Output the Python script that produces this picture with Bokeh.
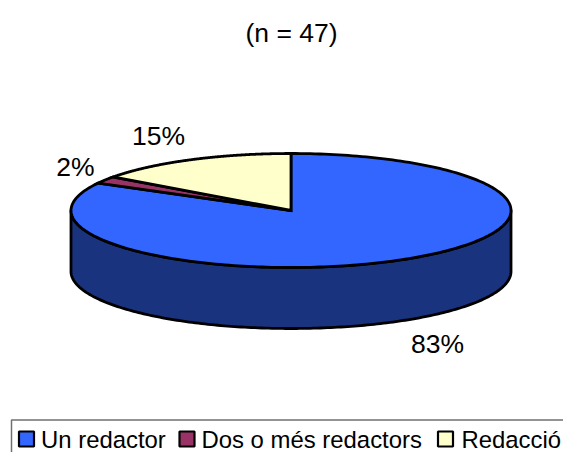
import numpy as np
from bokeh.plotting import figure
from bokeh.embed import file_html
from bokeh.resources import INLINE
from bokeh.core.properties import value

categories = ["Un redactor", "Dos o més redactors", "Redacció"]
shares = [83, 2, 15]
labels = ["83%", "2%", "15%"]
colors = ["#3366FF", "#993366", "#FFFFCC"]
title = "(n = 47)"

FONT = value("Liberation Sans")
W, H = 563, 452
p = figure(width=W, height=H, x_range=(0, W), y_range=(H, 0),
           output_backend="svg", toolbar_location=None, min_border=0,
           outline_line_color=None)
p.axis.visible = False
p.grid.visible = False
p.background_fill_color = "white"

cx, cy, rx, ry, depth = 290.5, 210, 220, 57, 61

def pt(deg):
    t = np.radians(deg)
    return cx + rx * np.sin(t), cy - ry * np.cos(t)

# side wall (front half of the rim)
ts = np.linspace(90, 270, 200)
x, y = pt(ts)
p.patch(list(x) + list(x[::-1]), list(y + depth) + list(y[::-1]),
        fill_color="#1A337F", line_color="black", line_width=2.8, line_join="round")

# top slices, clockwise from 12 o'clock
start = 0.0
total = sum(shares)
for share, color in zip(shares, colors):
    end = start + 360.0 * share / total
    a = np.linspace(start, end, 240)
    sx, sy = pt(a)
    p.patch([cx] + list(sx), [cy] + list(sy), fill_color=color,
            line_color="black", line_width=2.8, line_join="miter")
    start = end

def txt(px, py, s, size="26.5px", align="center"):
    p.text([px], [py], text=[s], text_font=FONT, text_font_size=size,
           text_align=align, text_baseline="middle", text_color="black")

txt(291, 32, title)
txt(437, 343, labels[0])
txt(75, 166, labels[1])
txt(158, 135, labels[2])

# legend
p.line([564, 11, 11], [419.5, 419.5, 460], line_color="#707070", line_width=1.5)
for sw, tx, name, color in zip([26, 186.5, 445], [40.5, 201, 461], categories, colors):
    p.rect([sw], [438.5], width=15, height=15, fill_color=color,
           line_color="black", line_width=2.2)
    txt(tx, 438.5, name, size="23.9px", align="left")

open("out.html", "w").write(file_html(p, INLINE))
